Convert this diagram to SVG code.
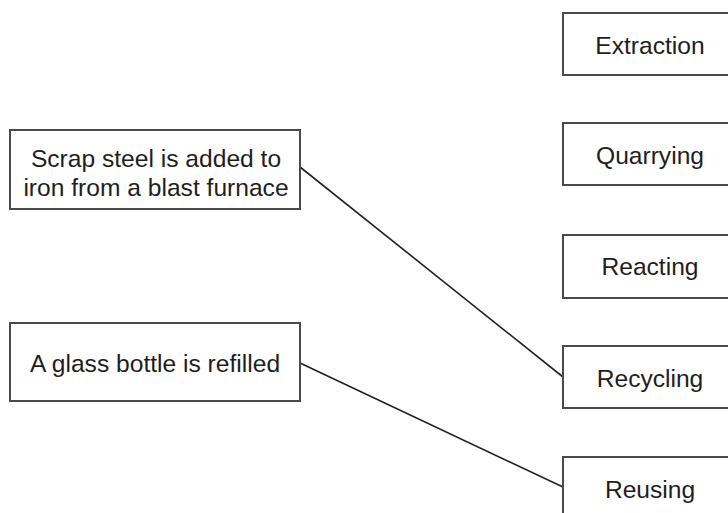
<svg xmlns="http://www.w3.org/2000/svg" width="728" height="513" viewBox="0 0 728 513">
<style>
.box{fill:#fff;stroke:#4a4a4a;stroke-width:2}
.t{font-family:"Liberation Sans",Arial,sans-serif;font-size:24.6px;fill:#1e1e1e;text-anchor:middle}
.c{stroke:#222;stroke-width:1.6;fill:none}
</style>
<rect width="728" height="513" fill="#fff"/>
<g id="connectors">
<line class="c" x1="300" y1="167" x2="563" y2="377"/>
<line class="c" x1="300" y1="363" x2="563" y2="487"/>
</g>
<g id="scrap">
<rect class="box" x="10" y="130" width="290" height="79"/>
<text class="t" x="156" y="167">Scrap steel is added to</text>
<text class="t" x="156" y="196">iron from a blast furnace</text>
</g>
<g id="bottle">
<rect class="box" x="10" y="323" width="290" height="78"/>
<text class="t" x="155" y="372">A glass bottle is refilled</text>
</g>
<g id="extraction">
<rect class="box" x="563" y="13" width="180" height="62"/>
<text class="t" x="650" y="54">Extraction</text>
</g>
<g id="quarrying">
<rect class="box" x="563" y="123" width="180" height="62"/>
<text class="t" x="650" y="164">Quarrying</text>
</g>
<g id="reacting">
<rect class="box" x="563" y="235" width="180" height="63"/>
<text class="t" x="650" y="275">Reacting</text>
</g>
<g id="recycling">
<rect class="box" x="563" y="346" width="180" height="62"/>
<text class="t" x="650" y="387">Recycling</text>
</g>
<g id="reusing">
<rect class="box" x="563" y="457" width="180" height="62"/>
<text class="t" x="650" y="498">Reusing</text>
</g>
</svg>
